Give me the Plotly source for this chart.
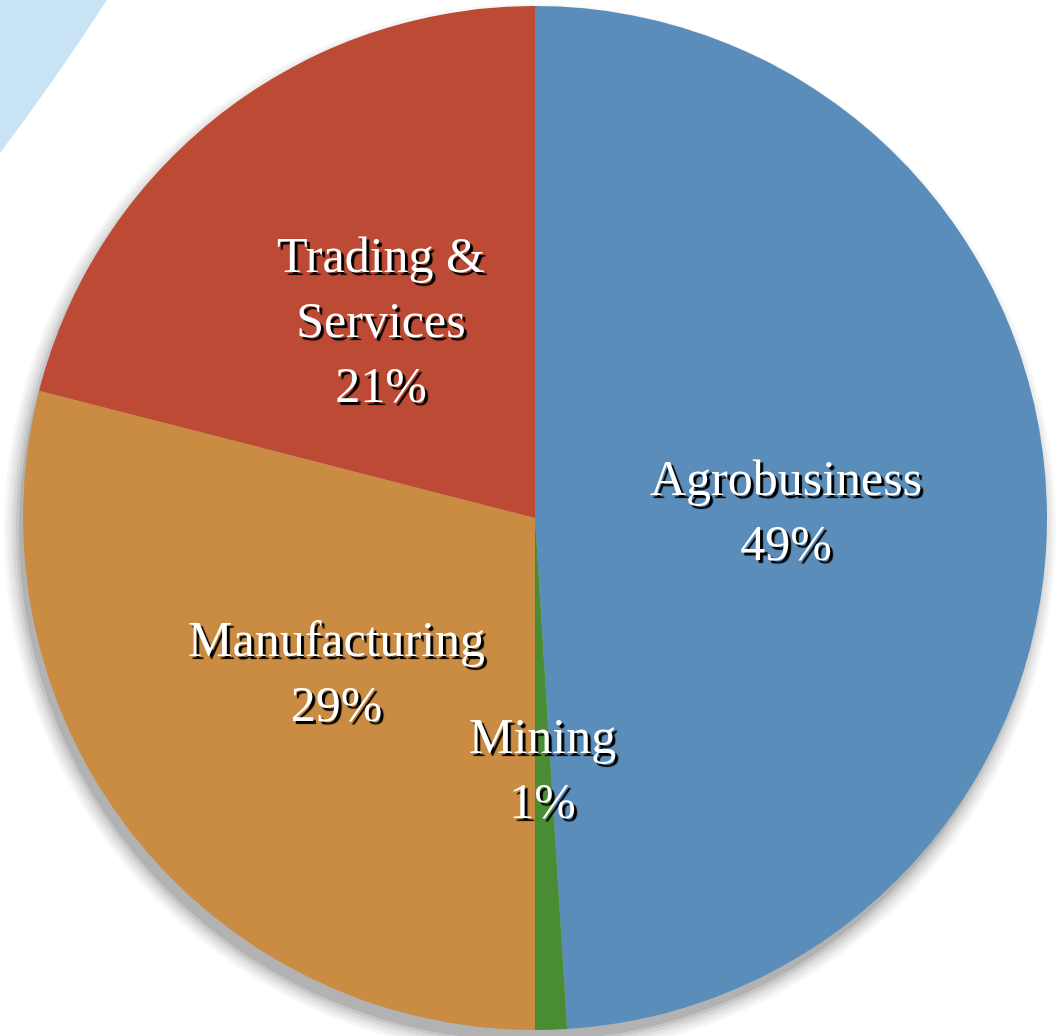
import numpy as np
import plotly.graph_objects as go

# sector shares (%), clockwise from 12 o'clock
sectors = ["Agrobusiness", "Mining", "Manufacturing", "Trading &<br>Services"]
shares = [49, 1, 29, 21]
colors = ["#5a8dba", "#4a8c34", "#c98c42", "#bd4a34"]

W, H = 1058, 1036
cx, cy, R = 535, 518, 512  # pie centre / radius in pixels

dom_x = [(cx - R) / W, (cx + R) / W]
dom_y = [(H - cy - R) / H, (H - cy + R) / H]

fig = go.Figure()
fig.add_trace(go.Pie(
    labels=sectors, values=shares, sort=False, direction="clockwise", rotation=0,
    marker=dict(colors=colors, line=dict(width=0)),
    textinfo="none", hoverinfo="label+percent", showlegend=False,
    domain=dict(x=dom_x, y=dom_y),
))

# labels at half radius on each slice's mid-angle
cum = np.cumsum([0] + shares) / sum(shares)
annotations = []
for name, s, a0, a1 in zip(sectors, shares, cum[:-1], cum[1:]):
    mid = (a0 + a1) / 2 * 2 * np.pi
    px = cx + 0.49 * R * np.sin(mid)
    py = cy - 0.49 * R * np.cos(mid)
    annotations.append(dict(
        x=px / W, y=1 - py / H, xref="paper", yref="paper", showarrow=False,
        xanchor="center", yanchor="middle", align="center",
        text=f"{name}<br>{s}%",
        font=dict(family="Liberation Serif", size=50, color="white",
                  shadow="3px 3px 1px black"),
    ))

shapes = []
# light-blue decorative band at top-left
shapes.append(dict(type="path", xref="paper", yref="paper", layer="below",
                   path=f"M 0 1 L {107/W} 1 Q {55/W} {1-80/H} 0 {1-153/H} Z",
                   fillcolor="#c8e3f3", line=dict(width=0)))
# soft drop shadow under the pie
for k, op in enumerate([0.04, 0.05, 0.06, 0.08, 0.10, 0.14]):
    rr = R + 14 - k * 3
    ox, oy = -5, 12
    shapes.append(dict(type="circle", xref="paper", yref="paper", layer="below",
                       x0=(cx + ox - rr) / W, x1=(cx + ox + rr) / W,
                       y0=1 - (cy + oy + rr) / H, y1=1 - (cy + oy - rr) / H,
                       fillcolor=f"rgba(60,60,60,{op})", line=dict(width=0)))

fig.update_layout(width=W, height=H, margin=dict(l=0, r=0, t=0, b=0),
                  paper_bgcolor="white", plot_bgcolor="white",
                  annotations=annotations, shapes=shapes)

fig.write_html("out.html", config={"displayModeBar": False},
               post_script="document.body.style.margin='0';")
